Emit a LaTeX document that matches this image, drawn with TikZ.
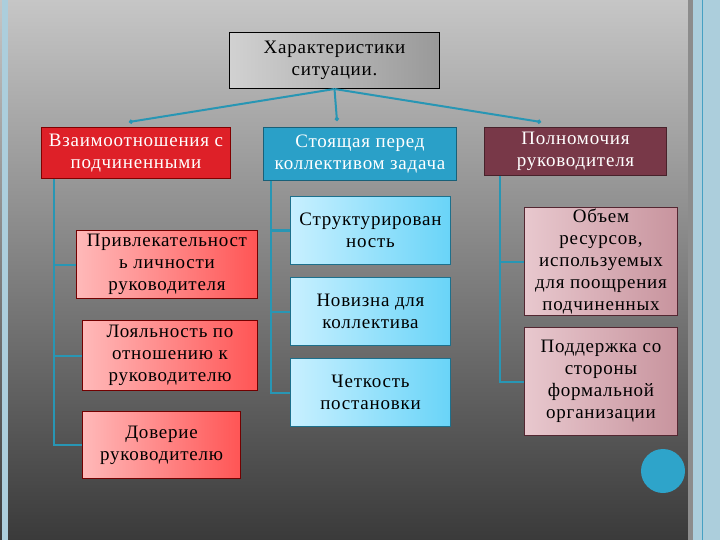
\documentclass[tikz,border=0pt]{standalone}
\usepackage{fontspec}
\setmainfont[LetterSpace=4]{Liberation Serif}
\usetikzlibrary{positioning,arrows.meta}

\definecolor{bgtop}{RGB}{198,198,198}
\definecolor{bgmid}{RGB}{128,128,128}
\definecolor{bgbot}{RGB}{58,58,58}
\definecolor{framelight}{RGB}{172,206,220}
\definecolor{frameline}{RGB}{70,160,195}
\definecolor{linkblue}{RGB}{40,150,180}
\definecolor{headred}{RGB}{222,32,40}
\definecolor{headblue}{RGB}{42,160,200}
\definecolor{headwine}{RGB}{120,56,72}
\definecolor{dotblue}{RGB}{46,164,202}

\begin{document}
\begin{tikzpicture}[
  x=1pt, y=-1pt,
  node distance=12pt and 20pt,
  every node/.style={font=\fontsize{19}{22}\selectfont},
  box/.style={draw, line width=1pt, inner sep=1pt, align=center},
  topbox/.style={box, draw=black, left color=white!82!black, right color=white!60!black, minimum width=210pt, minimum height=56pt},
  head/.style={box, text=white, minimum height=51pt},
  redhead/.style={head, fill=headred, draw=red!50!black},
  bluehead/.style={head, fill=headblue, draw=headblue!60!black},
  winehead/.style={head, fill=headwine, draw=headwine!60!black},
  pinkbox/.style={box, draw=red!45!black, left color={rgb,255:red,255;green,185;blue,185}, right color={rgb,255:red,255;green,85;blue,85}},
  skybox/.style={box, draw=headblue!70!black, left color={rgb,255:red,200;green,240;blue,255}, right color={rgb,255:red,105;green,212;blue,248}, minimum width=160pt, minimum height=68pt},
  mauvebox/.style={box, draw=headwine!70!black, left color={rgb,255:red,232;green,200;blue,206}, right color={rgb,255:red,200;green,148;blue,158}, minimum width=153pt, minimum height=108pt},
  conn/.style={draw=linkblue, line width=2pt},
  >={Circle[length=4pt]},
]
\useasboundingbox (0,0) rectangle (720,540);
% background and frame
\shade[top color=bgtop, middle color=bgmid, bottom color=bgbot] (0,0) rectangle (720,540);
\fill[framelight] (2,0) rectangle (8,540);
\fill[black!45] (688,0) rectangle (693,540);
\fill[framelight] (693,0) rectangle (720,540);
\draw[frameline, line width=1pt] (702,0) -- (702,540);
\fill[dotblue] (663,471) circle[radius=22pt];

% root and the three groups
\node[topbox, anchor=north west] (root) at (229,32) {Характеристики\\ситуации.};
\node[redhead, anchor=north west, minimum width=189pt] (rel) at (41,127) {Взаимоотношения с\\подчиненными};
\node[bluehead, anchor=north west, minimum width=193pt, minimum height=53pt] (task) at (263,127) {Стоящая перед\\коллективом задача};
\node[winehead, anchor=north west, minimum width=182pt, minimum height=48pt] (pow) at (484,127) {Полномочия\\руководителя};

% relations with subordinates
\node[pinkbox, anchor=north west, minimum width=181pt, minimum height=68pt] (attr) at (76,230) {Привлекательност\\ь личности\\руководителя};
\node[pinkbox, anchor=north west, minimum width=175pt, minimum height=70pt] (loyal) at (82,320) {Лояльность по\\отношению к\\руководителю};
\node[pinkbox, anchor=north west, minimum width=158pt, minimum height=67pt] (trust) at (82,411) {Доверие\\руководителю};

% task
\node[skybox, anchor=north west] (struct) at (290,196) {Структурирован\\ность};
\node[skybox, below=12pt of struct] (novel) {Новизна для\\коллектива};
\node[skybox, below=12pt of novel] (clear) {Четкость\\постановки};

% authority
\node[mauvebox, anchor=north west] (res) at (524,207) {Объем\\ресурсов,\\используемых\\для поощрения\\подчиненных};
\node[mauvebox, below=11pt of res] (supp) {Поддержка со\\стороны\\формальной\\организации};

% connectors
\coordinate (endrel) at (129,122);
\coordinate (endtask) at (337,121);
\coordinate (endpow) at (541,122);
\draw[conn, ->] (root.south) -- (endrel);
\draw[conn, ->] (root.south) -- (endtask);
\draw[conn, ->] (root.south) -- (endpow);

\draw[conn] ([xshift=13pt]rel.south west) |- (attr.west);
\draw[conn] ([xshift=13pt]rel.south west) |- (loyal.west);
\draw[conn] ([xshift=13pt]rel.south west) |- (trust.west);

\draw[conn] ([xshift=8pt]task.south west) |- (struct.west);
\draw[conn] ([xshift=8pt]task.south west) |- (novel.west);
\draw[conn] ([xshift=8pt]task.south west) |- (clear.west);

\draw[conn] ([xshift=16pt]pow.south west) |- (res.west);
\draw[conn] ([xshift=16pt]pow.south west) |- (supp.west);
\end{tikzpicture}
\end{document}
